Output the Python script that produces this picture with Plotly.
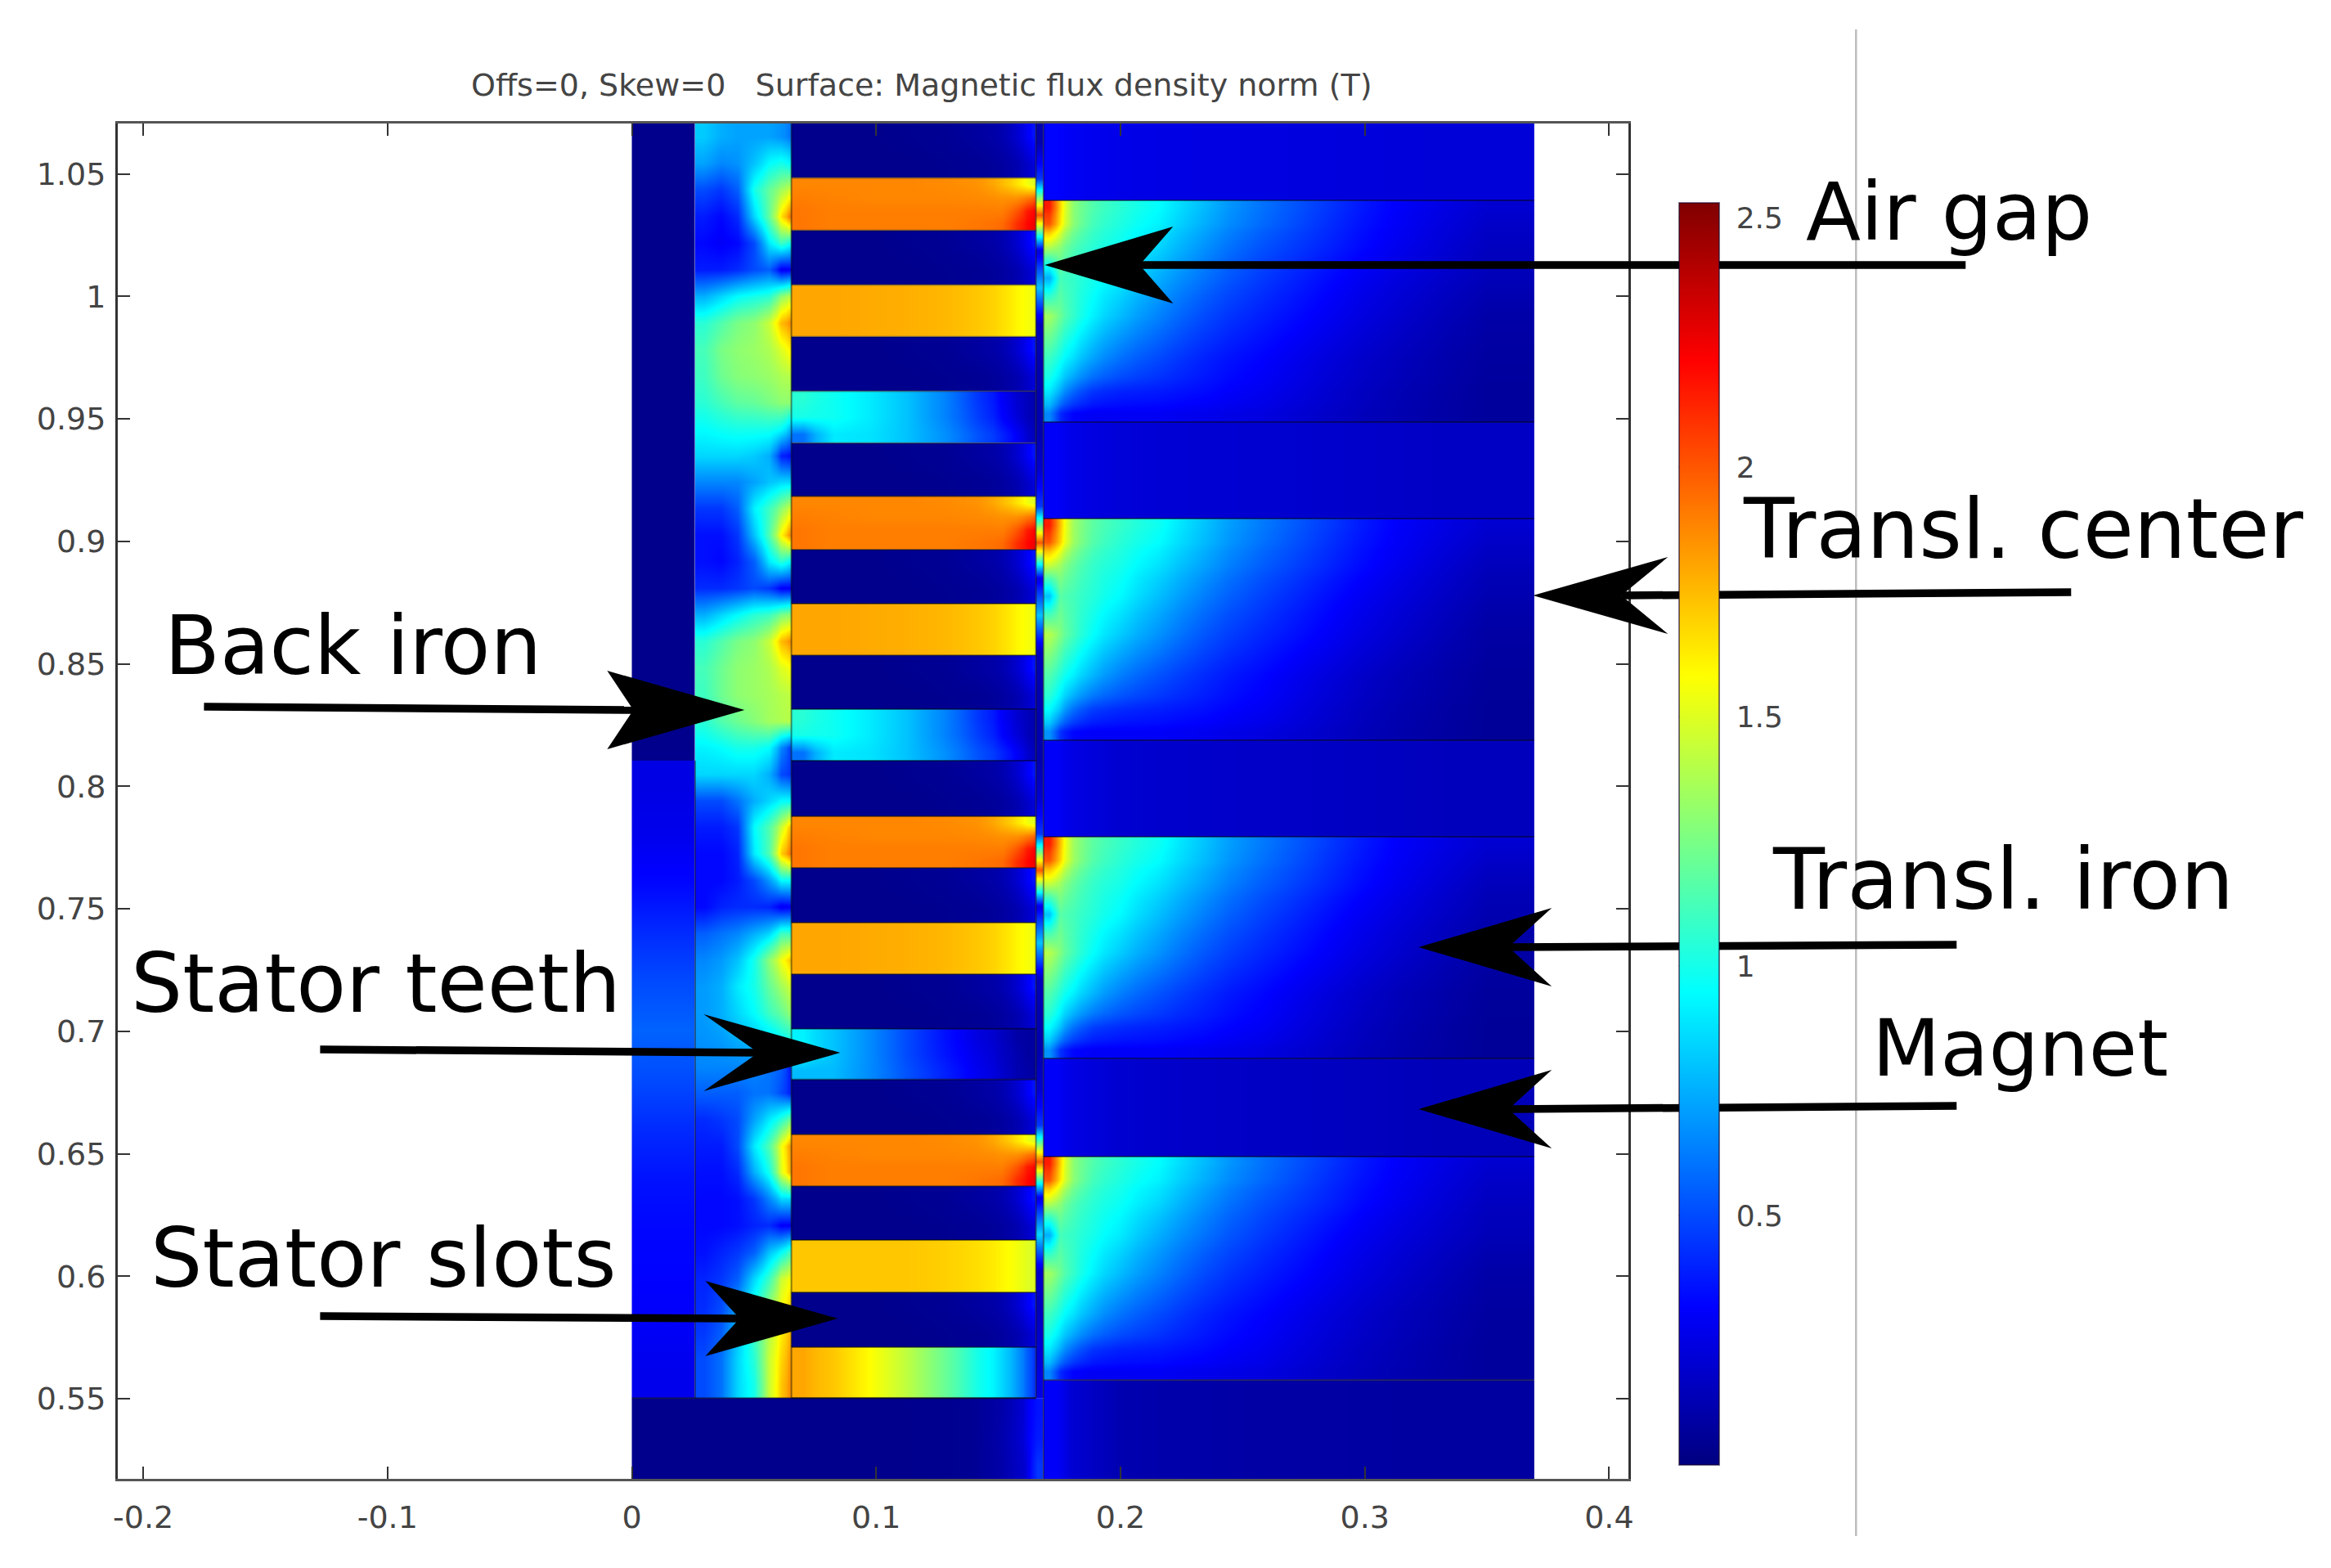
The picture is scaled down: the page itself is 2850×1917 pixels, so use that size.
import numpy as np
import plotly.graph_objects as go

# ---------- axes / labels ----------
X_TICKS = [-0.2, -0.1, 0, 0.1, 0.2, 0.3, 0.4]
X_TEXT = ["-0.2", "-0.1", "0", "0.1", "0.2", "0.3", "0.4"]
Y_TICKS = [0.55, 0.6, 0.65, 0.7, 0.75, 0.8, 0.85, 0.9, 0.95, 1, 1.05]
Y_TEXT = ["0.55", "0.6", "0.65", "0.7", "0.75", "0.8", "0.85", "0.9", "0.95", "1", "1.05"]
CB_TICKS = [0.5, 1, 1.5, 2, 2.5]
CB_TEXT = ["0.5", "1", "1.5", "2", "2.5"]
TITLE = "Offs=0, Skew=0   Surface: Magnetic flux density norm (T)"
CMIN, CMAX = 0.0, 2.53
JET = [[0, "#000080"], [0.125, "#0000ff"], [0.375, "#00ffff"],
       [0.625, "#ffff00"], [0.875, "#ff0000"], [1, "#800000"]]

# ---------- geometry (data units) ----------
X_BACK, X_YOKE, X_TOOTH, X_GAP, X_END = 0.0259, 0.0653, 0.1654, 0.1685, 0.3693
Y_BOT, Y_STATOR, Y_SPLIT, Y_TOP = 0.5173, 0.5503, 0.8105, 1.0706
SLOT_BOUNDS = [1.0484, 1.0269, 1.0047, 0.9835, 0.9613, 0.9401, 0.9184, 0.8966, 0.8746, 0.8535,
               0.8315, 0.8105, 0.7878, 0.7667, 0.7444, 0.7233, 0.7010, 0.6803, 0.6579, 0.6368,
               0.6148, 0.5934, 0.5711, 0.5503]
TRANSL_BOUNDS = [1.0392, 0.9487, 0.9093, 0.8188, 0.7794, 0.6889, 0.6489, 0.5576]

# ---------- stator yoke field, top row first ----------
YOKE_X = [X_BACK, 0.0333, 0.04, 0.0467, 0.0534, 0.0590, 0.0629, X_YOKE]
YOKE_Z = [
    [.82, .75, .72, .72, .72, .68, .62],
    [.72, .65, .68, .80, .95, 1.0, .95],
    [.50, .45, .55, 1.0, 1.2, 1.35, 1.45],
    [.38, .33, .42, .85, 1.2, 1.65, 1.9],
    [.33, .30, .33, .50, .90, 1.1, 1.0],
    [.38, .38, .42, .50, .55, .28, .30],
    [.75, .85, .95, 1.0, 1.05, 1.3, 1.4],
    [1.05, 1.15, 1.25, 1.3, 1.45, 1.75, 1.85],
    [1.12, 1.25, 1.3, 1.33, 1.38, 1.5, 1.6],
    [1.1, 1.22, 1.28, 1.3, 1.33, 1.38, 1.4],
    [1.05, 1.12, 1.18, 1.2, 1.25, 1.3, 1.3],
    [.95, .98, 1.0, 1.0, 1.0, .95, .80],
    [.85, .85, .85, .82, .75, .40, .35],
    [.65, .65, .65, .72, .80, .85, .85],
    [.45, .45, .55, .92, 1.1, 1.3, 1.45],
    [.35, .35, .45, .80, 1.15, 1.6, 1.85],
    [.35, .33, .40, .55, .90, 1.05, .95],
    [.42, .42, .45, .50, .45, .30, .30],
    [.75, .85, .95, 1.05, 1.1, 1.25, 1.3],
    [1.05, 1.15, 1.25, 1.3, 1.45, 1.75, 1.85],
    [1.12, 1.22, 1.3, 1.33, 1.38, 1.5, 1.55],
    [1.1, 1.22, 1.3, 1.33, 1.36, 1.4, 1.42],
    [1.05, 1.15, 1.22, 1.28, 1.35, 1.38, 1.4],
    [.92, .95, 1.0, 1.0, .95, .65, .50],
    [.85, .85, .85, .85, .75, .50, .45],
    [.50, .50, .60, .75, .85, .95, .95],
    [.38, .38, .45, .95, 1.15, 1.45, 1.7],
    [.33, .33, .40, .90, 1.15, 1.7, 1.9],
    [.33, .33, .38, .50, .70, .95, .95],
    [.33, .40, .42, .42, .40, .28, .30],
    [.55, .60, .65, .75, .85, 1.1, 1.1],
    [.65, .70, .80, 1.0, 1.3, 1.55, 1.7],
    [.70, .75, .90, 1.0, 1.2, 1.35, 1.45],
    [.70, .75, .85, .95, 1.1, 1.2, 1.3],
    [.68, .70, .75, .80, .85, .95, 1.0],
    [.65, .65, .65, .65, .60, .55, .40],
    [.55, .55, .55, .60, .60, .50, .40],
    [.42, .45, .50, .72, .90, 1.05, 1.2],
    [.38, .38, .50, .90, 1.15, 1.55, 1.8],
    [.35, .35, .42, .75, 1.0, 1.5, 1.75],
    [.33, .33, .35, .45, .65, .85, .85],
    [.33, .33, .35, .40, .42, .30, .30],
    [.35, .40, .45, .55, .80, .95, 1.1],
    [.40, .45, .55, .85, 1.1, 1.45, 1.55],
    [.42, .50, .70, 1.0, 1.3, 1.55, 1.68],
    [.45, .55, .80, 1.1, 1.4, 1.62, 1.75],
    [.50, .60, .85, 1.05, 1.45, 1.68, 1.82],
    [.50, .60, .85, 1.0, 1.45, 1.72, 1.85],
]

# ---------- back iron ----------
BACK_LOWER_Z = [.25, .27, .33, .42, .50, .56, .50, .42, .36, .33, .32, .30, .27]  # top to bottom
BACK_UPPER_Z = 0.03

# ---------- slots and teeth rows, top row of each block first ----------
SLOT_X = [X_YOKE, 0.075, 0.09, 0.105, 0.12, 0.135, 0.148, 0.155, 0.16, 0.1635, X_TOOTH]
ROW_NAVY = [[.03, .03, .03, .04, .05, .08, .12, .20, .30, .36],
            [.03, .03, .03, .03, .04, .05, .08, .12, .18, .22]]
ROW_A = [[1.88, 1.88, 1.88, 1.88, 1.87, 1.85, 1.75, 1.65, 1.55, 1.5],
         [1.90, 1.89, 1.88, 1.88, 1.88, 1.87, 1.85, 1.85, 1.90, 1.95],
         [1.92, 1.90, 1.90, 1.90, 1.90, 1.90, 1.90, 2.0, 2.15, 2.2],
         [1.92, 1.90, 1.90, 1.90, 1.90, 1.92, 1.95, 2.1, 2.2, 2.25]]
ROW_B = [[1.80, 1.80, 1.79, 1.78, 1.76, 1.72, 1.66, 1.60, 1.56, 1.55],
         [1.80, 1.80, 1.79, 1.78, 1.76, 1.72, 1.66, 1.60, 1.56, 1.55]]
ROW_C = [[1.05, .98, .90, .80, .65, .45, .30, .20, .15, .12],
         [1.00, .98, .90, .80, .65, .47, .32, .22, .15, .12],
         [.60, .90, .88, .80, .68, .52, .40, .30, .20, .15]]
ROW_D = [[.92, .80, .66, .50, .36, .24, .16, .10, .08, .08],
         [.92, .80, .66, .50, .37, .26, .17, .12, .08, .08],
         [.78, .78, .66, .52, .40, .28, .19, .12, .10, .08]]
ROW_E = [[1.72, 1.72, 1.72, 1.72, 1.70, 1.66, 1.60, 1.55, 1.50, 1.50],
         [1.72, 1.72, 1.72, 1.72, 1.70, 1.66, 1.60, 1.55, 1.50, 1.50]]
ROW_F = [[1.80, 1.72, 1.58, 1.42, 1.22, 1.00, .85, .70, .55, .45],
         [1.80, 1.72, 1.58, 1.42, 1.22, 1.00, .85, .70, .55, .45]]
ROW_ORDER = [ROW_A, ROW_B, ROW_C, ROW_A, ROW_B, ROW_C, ROW_A, ROW_B, ROW_D, ROW_A, ROW_E, ROW_F]

BOTTOM_X = [0, 0.08, 0.13, 0.15, 0.16, 0.1635, X_GAP]
BOTTOM_Z = [[.03, .03, .05, .14, .28, .36],
            [.03, .03, .05, .15, .28, .38],
            [.03, .03, .05, .14, .24, .45]]

# air-gap strip: one value per stretch, top to bottom
GAP_Z = [.12, .45, 2.0, .22, .8, .15, .12, .12, .12, .2, .45, 2.0, .25, .8, .15, .12, .12, .12,
         .2, .45, 2.0, .25, .8, .15, .12, .12, .2, .45, 2.0, .25, .85, .2, .15, .2, .25]

# ---------- translator iron, top row first ----------
TR_X = [X_GAP, 0.1732, 0.1772, 0.1839, 0.1933, 0.2070, 0.2244, 0.2445, 0.2712, 0.2984, 0.3319, X_END]
TR_FRACTIONS = [1, 0.939, 0.853, 0.730, 0.571, 0.387, 0.202, 0.080, 0]   # position within each block
TR_A = [[2.15, 1.70, 1.30, 1.15, 1.05, .95, .78, .60, .45, .30, .20],
        [2.00, 1.65, 1.30, 1.12, 1.02, .92, .75, .58, .43, .29, .18],
        [1.40, 1.30, 1.15, 1.05, .97, .85, .68, .52, .40, .27, .16],
        [.75, 1.12, 1.08, 1.00, .90, .75, .60, .46, .34, .23, .14],
        [1.35, 1.22, 1.08, .92, .78, .64, .50, .39, .29, .19, .10],
        [1.10, 1.00, .88, .73, .60, .50, .40, .32, .23, .15, .08],
        [.90, .75, .58, .45, .40, .38, .34, .28, .20, .13, .07],
        [.65, .42, .32, .29, .29, .29, .27, .24, .18, .12, .07]]
TR_B = [[2.15, 1.75, 1.35, 1.18, 1.08, .98, .80, .62, .46, .30, .20],
        [2.00, 1.70, 1.35, 1.16, 1.05, .95, .78, .60, .44, .29, .18],
        [1.45, 1.35, 1.20, 1.08, 1.00, .88, .72, .55, .41, .27, .15],
        [.80, 1.17, 1.12, 1.04, .94, .79, .63, .48, .35, .23, .12],
        [1.40, 1.27, 1.12, .96, .82, .68, .53, .41, .30, .19, .09],
        [1.15, 1.04, .92, .77, .63, .52, .42, .33, .23, .14, .07],
        [.95, .80, .60, .47, .42, .39, .35, .29, .20, .12, .06],
        [.68, .44, .33, .30, .30, .30, .28, .24, .18, .11, .06]]
TR_ORDER = [TR_A, TR_B, TR_B, TR_A]

# ---------- magnets, left to right ----------
MAGNET_X = [X_GAP, 0.18, 0.22, 0.30, X_END]
MAGNET_TOP = [.32, .26, .24, .22]
MAGNET_2 = [.30, .22, .20, .17]
MAGNET_3 = [.30, .20, .18, .15]
MAGNET_4 = [.30, .20, .17, .14]
MAGNET_5 = [.30, .12, .09, .08]

# ---------- overlay: labels and arrows, page pixels ----------
LABELS = [("Air gap", 2206, 259, 98), ("Transl. center", 2129, 647, 101), ("Back iron", 199, 789, 99),
          ("Stator teeth", 158, 1202, 99.5), ("Stator slots", 182, 1538, 100), ("Transl. iron", 2165, 1075, 103),
          ("Magnet", 2287, 1282, 96.5)]
# tail, tip, barb offset back along the axis, half spread, notch offset
ARROWS = [((2403, 324), (1277, 324), 157, 47, 116),
          ((2532, 724), (1874, 728), 165, 47, 108),
          ((2392, 1155), (1734, 1158), 163, 48, 110),
          ((2392, 1352), (1734, 1356), 163, 48, 110),
          ((249, 864), (910, 868), 168, 48, 136),
          ((391, 1283), (1027, 1287), 167, 47, 100),
          ((391, 1609), (1024, 1612), 162, 46, 120)]

# ---------- page frame ----------
W, H = 2850, 1917
L, R, T, B = 143.6, 1990.7, 151, 1808
CB_L, CB_R, CB_T, CB_B = 2052.5, 2101, 248, 1791
XMIN, XMAX, YMIN, YMAX = -0.2104, 0.4079, Y_BOT, Y_TOP


def fx(px):
    return (px - L) / (R - L)


def fy(py):
    return (B - py) / (B - T)


fig = go.Figure()


def field(x_edges, y_lo, y_hi, rows_top_first):
    z = np.array(rows_top_first, dtype=float)[::-1]
    y_edges = np.linspace(y_lo, y_hi, z.shape[0] + 1)
    fig.add_trace(go.Heatmap(x=list(x_edges), y=list(y_edges), z=z.tolist(), coloraxis="coloraxis",
                             zsmooth="best", hoverinfo="skip", showlegend=False))


# back iron
field([0, 0.013, X_BACK], Y_SPLIT, Y_TOP, [[BACK_UPPER_Z] * 2] * 2)
field([0, 0.013, X_BACK], Y_STATOR, Y_SPLIT, [[v, v] for v in BACK_LOWER_Z])
# yoke
field(YOKE_X, Y_STATOR, Y_TOP, YOKE_Z)
# slots and teeth: alternate navy and coloured rows
bounds = [Y_TOP] + SLOT_BOUNDS
k = 0
for i in range(len(bounds) - 1):
    rows = ROW_NAVY if i % 2 == 0 else ROW_ORDER[k]
    if i % 2 == 1:
        k += 1
    field(SLOT_X, bounds[i + 1], bounds[i], rows)
# bottom bar
field(BOTTOM_X, Y_BOT, Y_STATOR, BOTTOM_Z)
# air gap strip
field([X_TOOTH, 0.167, X_GAP], Y_STATOR, Y_TOP, [[v, v] for v in GAP_Z])
# translator iron
ends = TRANSL_BOUNDS
for n, table in enumerate(TR_ORDER):
    hi, lo = ends[2 * n], ends[2 * n + 1]
    z = np.array(table, dtype=float)[::-1]
    y_edges = [lo + (hi - lo) * f for f in TR_FRACTIONS[::-1]]
    fig.add_trace(go.Heatmap(x=TR_X, y=y_edges, z=z.tolist(), coloraxis="coloraxis", zsmooth="best",
                             hoverinfo="skip", showlegend=False))
# magnets
for row, lo, hi in [(MAGNET_TOP, ends[0], Y_TOP), (MAGNET_2, ends[2], ends[1]), (MAGNET_3, ends[4], ends[3]),
                    (MAGNET_4, ends[6], ends[5]), (MAGNET_5, Y_BOT, ends[7])]:
    field(MAGNET_X, lo, hi, [row, row])

# region outlines
lx, ly = [], []
for v in SLOT_BOUNDS:
    lx += [X_YOKE, X_TOOTH, None]
    ly += [v, v, None]
for v in TRANSL_BOUNDS:
    lx += [X_GAP, X_END, None]
    ly += [v, v, None]
lx += [X_BACK, X_BACK, None, X_YOKE, X_YOKE, None, X_TOOTH, X_TOOTH, None, X_GAP, X_GAP, None, 0, X_TOOTH]
ly += [Y_STATOR, Y_SPLIT, None, Y_STATOR, Y_TOP, None, Y_STATOR, Y_TOP, None, Y_BOT, Y_TOP, None, Y_STATOR, Y_STATOR]
fig.add_trace(go.Scatter(x=lx, y=ly, mode="lines", line=dict(color="rgba(0,0,0,0.45)", width=2),
                         hoverinfo="skip", showlegend=False))

shapes = []
# grey vertical rule
shapes.append(dict(type="line", xref="paper", yref="paper", x0=fx(2269), x1=fx(2269), y0=fy(36), y1=fy(1878),
                   line=dict(color="#bdbdbd", width=2.5)))
# arrows
for (tx, ty), (hx, hy), back, spread, notch in ARROWS:
    d = 1 if tx > hx else -1
    shapes.append(dict(type="line", xref="paper", yref="paper", x0=fx(tx), y0=fy(ty), x1=fx(hx + d * notch),
                       y1=fy(hy), line=dict(color="black", width=9.5)))
    pts = [(hx, hy), (hx + d * back, hy - spread), (hx + d * notch, hy), (hx + d * back, hy + spread)]
    path = "M " + " L ".join(f"{fx(a):.5f} {fy(b):.5f}" for a, b in pts) + " Z"
    shapes.append(dict(type="path", xref="paper", yref="paper", path=path, fillcolor="black", line=dict(width=0)))
# colour-bar tick marks on both edges
for v in CB_TICKS:
    py = CB_B - (v - CMIN) / (CMAX - CMIN) * (CB_B - CB_T)
    for a, b in [(CB_L, CB_L + 8), (CB_R - 8, CB_R)]:
        shapes.append(dict(type="line", xref="paper", yref="paper", x0=fx(a), x1=fx(b), y0=fy(py), y1=fy(py),
                           line=dict(color="rgba(40,0,0,0.7)", width=2)))

annotations = [dict(text=t, xref="paper", yref="paper", x=fx(a), y=fy(b), xanchor="left", yanchor="middle",
                    showarrow=False, font=dict(family="DejaVu Sans", size=s, color="black"))
               for t, a, b, s in LABELS]
annotations.append(dict(text=TITLE.replace("   ", "&nbsp;&nbsp;&nbsp;"), xref="paper", yref="paper", x=fx(1127), y=fy(104),
                        xanchor="center", yanchor="middle", showarrow=False,
                        font=dict(family="DejaVu Sans", size=38, color="#444444")))

axis_font = dict(family="DejaVu Sans", size=38, color="#444444")
fig.update_layout(
    width=W, height=H, margin=dict(l=L, r=W - R, t=T, b=H - B, pad=0, autoexpand=False),
    paper_bgcolor="white", plot_bgcolor="white", showlegend=False,
    font=axis_font, shapes=shapes, annotations=annotations,
    coloraxis=dict(cmin=CMIN, cmax=CMAX, colorscale=JET, colorbar=dict(
        thicknessmode="pixels", thickness=CB_R - CB_L, lenmode="pixels", len=CB_B - CB_T,
        x=fx(CB_L), xanchor="left", y=fy(CB_T), yanchor="top", xpad=0, ypad=0,
        tickmode="array", tickvals=CB_TICKS, ticktext=CB_TEXT, ticks="outside", ticklen=13,
        tickcolor="rgba(0,0,0,0)", tickfont=dict(family="DejaVu Sans", size=36, color="#444444"),
        outlinecolor="rgba(20,0,40,0.55)", outlinewidth=2,
    )),
    xaxis=dict(range=[XMIN, XMAX], tickmode="array", tickvals=X_TICKS, ticktext=X_TEXT, ticks="inside", ticklen=15,
               tickwidth=2, tickcolor="#333333", showgrid=False, zeroline=False, showline=True, linecolor="#555555",
               linewidth=3, mirror="ticks", tickfont=axis_font, ticklabelstandoff=11),
    yaxis=dict(range=[YMIN, YMAX], tickmode="array", tickvals=Y_TICKS, ticktext=Y_TEXT, ticks="inside", ticklen=15,
               tickwidth=2, tickcolor="#333333", showgrid=False, zeroline=False, showline=True, linecolor="#333333",
               linewidth=3, mirror="ticks", tickfont=axis_font, ticklabelstandoff=4),
)

fig.write_html("out.html", config={"displayModeBar": False},
               post_script="document.body.style.margin='0';document.body.style.overflow='hidden';")
